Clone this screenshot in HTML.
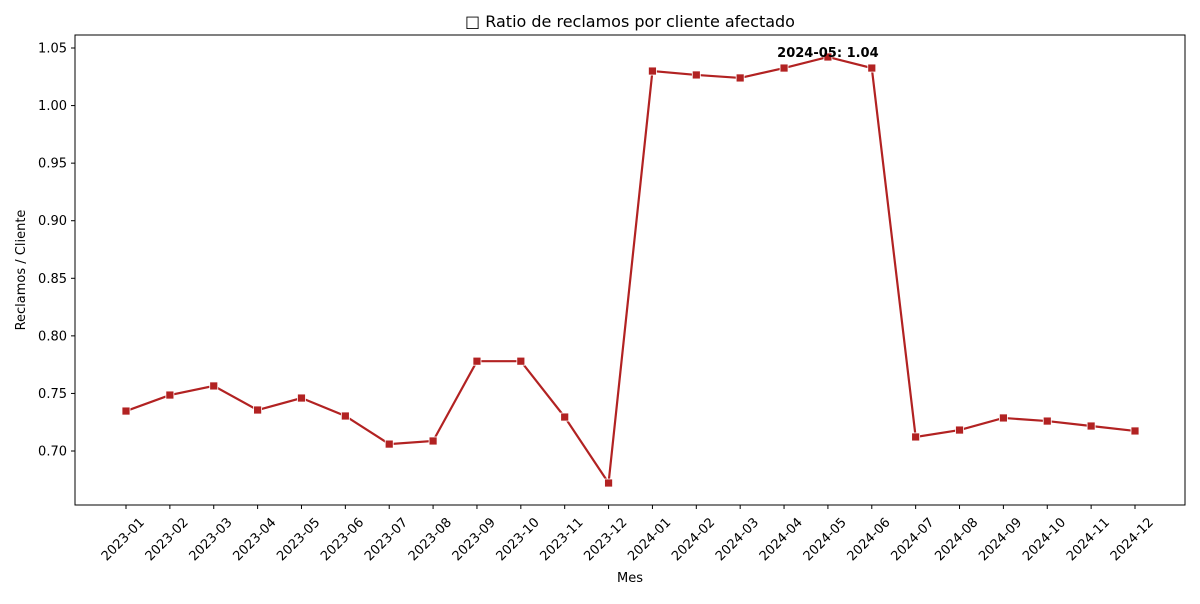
<!DOCTYPE html>
<html><head><meta charset="utf-8"><style>
body{margin:0;background:#fff;font-family:"DejaVu Sans","Liberation Sans",sans-serif}
</style></head><body>
<svg id="chart" width="1200" height="600" xmlns="http://www.w3.org/2000/svg" font-family="DejaVu Sans, Liberation Sans, sans-serif"></svg>
<script>
const categories=["2023-01","2023-02","2023-03","2023-04","2023-05","2023-06","2023-07","2023-08","2023-09","2023-10","2023-11","2023-12","2024-01","2024-02","2024-03","2024-04","2024-05","2024-06","2024-07","2024-08","2024-09","2024-10","2024-11","2024-12"];
const ratios=[0.7347,0.7486,0.7565,0.7356,0.746,0.7304,0.706,0.7087,0.778,0.778,0.7295,0.6722,1.030,1.0266,1.024,1.0326,1.0422,1.0326,0.7122,0.7182,0.7287,0.726,0.7217,0.7174];
const yTicks=[0.70,0.75,0.80,0.85,0.90,0.95,1.00,1.05];
const ns="http://www.w3.org/2000/svg";
const svg=document.getElementById('chart');
const L=75,R=1185,T=35,B=505;
const yMin=0.6531,yMax=1.0613;
const x=i=>126+i*(1135-126)/(categories.length-1);
const y=v=>B-(v-yMin)/(yMax-yMin)*(B-T);
function el(tag,attrs,text){const e=document.createElementNS(ns,tag);for(const k in attrs)e.setAttribute(k,attrs[k]);if(text!==undefined)e.textContent=text;svg.appendChild(e);return e;}
let e;
e=el('rect',{x:L,y:T,width:R-L,height:B-T,fill:'none',stroke:'#000','stroke-width':1});


e=el('text',{x:630,y:27,'text-anchor':'middle','font-size':16},'□ Ratio de reclamos por cliente afectado');


yTicks.forEach(v=>{
 const t=el('line',{x1:L-4,x2:L,y1:y(v),y2:y(v),stroke:'#000'});
 
 
 const l=el('text',{x:L-8,y:y(v)+4.5,'text-anchor':'end','font-size':13},v.toFixed(2));
 
 
});
categories.forEach((c,i)=>{
 const t=el('line',{x1:x(i),x2:x(i),y1:B,y2:B+4,stroke:'#000'});
 
 
 const l=el('text',{x:0,y:0,'text-anchor':'end','font-size':13,transform:`translate(${x(i)+19},${B+18}) rotate(-45)`},c);
 
 
});
e=el('text',{x:630,y:582,'text-anchor':'middle','font-size':13},'Mes');


e=el('text',{x:0,y:0,'text-anchor':'middle','font-size':13,transform:`translate(25,270) rotate(-90)`},'Reclamos / Cliente');


e=el('polyline',{points:ratios.map((v,i)=>x(i)+','+y(v)).join(' '),fill:'none',stroke:'#b22222','stroke-width':2.2});


ratios.forEach((v,i)=>{
 const m=el('rect',{x:x(i)-4,y:y(v)-4,width:8,height:8,fill:'#b22222',stroke:'#fff','stroke-width':0.8});
 
 
});
let mi=0;ratios.forEach((v,i)=>{if(v>ratios[mi])mi=i;});
e=el('text',{x:x(mi),y:y(ratios[mi]),'text-anchor':'middle','font-size':13,'font-weight':'bold',dy:0},categories[mi]+': '+ratios[mi].toFixed(2));


</script>
</body></html>
